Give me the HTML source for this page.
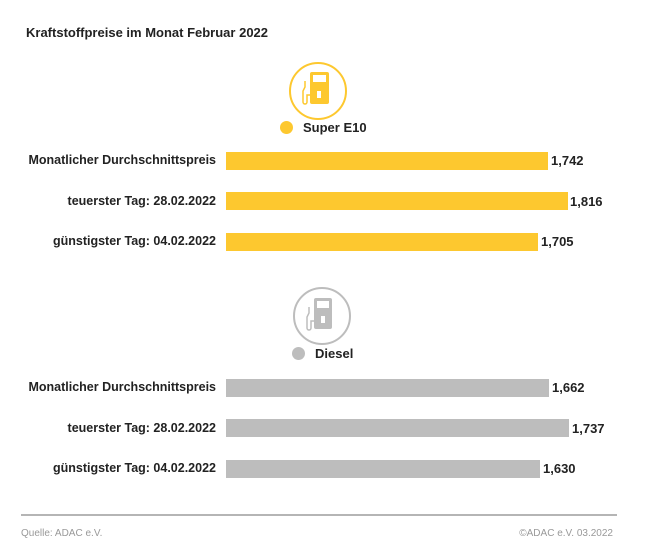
<!DOCTYPE html><html><head><style>
body{margin:0;width:650px;height:560px;background:#fff;font-family:"Liberation Sans",sans-serif;position:relative;overflow:hidden}
.a{position:absolute;white-space:nowrap}
.t{left:26px;top:25px;font-size:13px;font-weight:bold;color:#222}
.l{right:434px;font-size:12.5px;font-weight:bold;color:#222}
.b{position:absolute;left:226px;height:18px}
.v{font-size:13px;font-weight:bold;color:#222}
.y{background:#fdc82f}.g{background:#bdbdbd}
.f{font-size:10px;color:#999;top:528px}
</style></head><body>
<div class="a t">Kraftstoffpreise im Monat Februar 2022</div>
<svg class="a" style="left:288px;top:61px" width="60" height="60" viewBox="0 0 60 60">
<circle cx="30" cy="30" r="28" fill="none" stroke="#fdc82f" stroke-width="2"/>
<rect x="22" y="11" width="19" height="32" rx="2" fill="#fdc82f"/><rect x="29" y="30" width="4" height="7" fill="#fff"/><rect x="25" y="14" width="13" height="7" fill="#fff"/>
<path d="M22 34 h-3 v7 a2 2 0 0 1 -4 0 v-11 l2 -4 v-6" fill="none" stroke="#fdc82f" stroke-width="1.5"/>
</svg>
<div class="a" style="left:280px;top:121px;width:13px;height:13px;border-radius:50%;background:#fdc82f"></div>
<div class="a v" style="left:303px;top:120px">Super E10</div>
<div class="a l" style="top:153px">Monatlicher Durchschnittspreis</div>
<div class="b y" style="top:152px;width:322px"></div><div class="a v" style="left:551px;top:153px">1,742</div>
<div class="a l" style="top:194px">teuerster Tag: 28.02.2022</div>
<div class="b y" style="top:192px;width:342px"></div><div class="a v" style="left:570px;top:194px">1,816</div>
<div class="a l" style="top:234px">günstigster Tag: 04.02.2022</div>
<div class="b y" style="top:233px;width:312px"></div><div class="a v" style="left:541px;top:234px">1,705</div>
<svg class="a" style="left:293px;top:287px" width="60" height="60" viewBox="0 0 60 60">
<circle cx="29" cy="29" r="28" fill="none" stroke="#bdbdbd" stroke-width="2"/>
<rect x="21" y="11" width="18" height="31" rx="2" fill="#bdbdbd"/><rect x="28" y="29" width="4" height="7" fill="#fff"/><rect x="24" y="14" width="12" height="7" fill="#fff"/>
<path d="M21 34 h-3 v7 a2 2 0 0 1 -4 0 v-11 l2 -4 v-6" fill="none" stroke="#bdbdbd" stroke-width="1.5"/>
</svg>
<div class="a" style="left:292px;top:347px;width:13px;height:13px;border-radius:50%;background:#bdbdbd"></div>
<div class="a v" style="left:315px;top:346px">Diesel</div>
<div class="a l" style="top:380px">Monatlicher Durchschnittspreis</div>
<div class="b g" style="top:379px;width:323px"></div><div class="a v" style="left:552px;top:380px">1,662</div>
<div class="a l" style="top:421px">teuerster Tag: 28.02.2022</div>
<div class="b g" style="top:419px;width:343px"></div><div class="a v" style="left:572px;top:421px">1,737</div>
<div class="a l" style="top:461px">günstigster Tag: 04.02.2022</div>
<div class="b g" style="top:460px;width:314px"></div><div class="a v" style="left:543px;top:461px">1,630</div>
<div class="a" style="left:21px;top:514px;width:596px;height:2px;background:#b5b5b5"></div>
<div class="a f" style="left:21px">Quelle: ADAC e.V.</div>
<div class="a f" style="right:37px">©ADAC e.V. 03.2022</div>
</body></html>
